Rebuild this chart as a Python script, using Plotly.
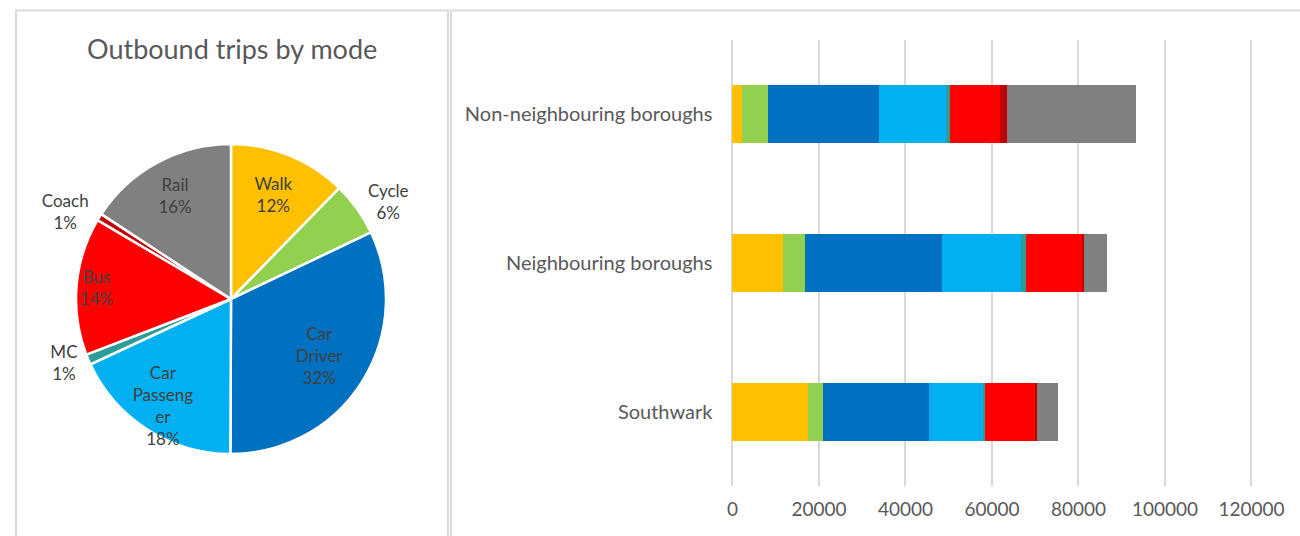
import plotly.graph_objects as go

# ---------------- data ----------------
categories = ["Southwark", "Neighbouring boroughs", "Non-neighbouring boroughs"]
modes = ["Walk", "Cycle", "Car Driver", "Car Passenger", "MC", "Bus", "Coach", "Rail"]
pie_labels = ["Walk", "Cycle", "Car<br>Driver", "Car<br>Passeng<br>er", "MC", "Bus", "Coach", "Rail"]

walk = [17570, 11650, 2200]
cycle = [3470, 5000, 5900]
car_driver = [24280, 31900, 25800]
car_passenger = [12490, 18100, 15400]
mc = [600, 1150, 1000]
bus = [11790, 13250, 11560]
coach = [100, 200, 1550]
rail = [5010, 5250, 30000]

series = [walk, cycle, car_driver, car_passenger, mc, bus, coach, rail]
colors = ["#FFC000", "#92D050", "#0070C0", "#00B0F0", "#2E9C98", "#FF0000", "#C00000", "#808080"]
x_ticks = [0, 20000, 40000, 60000, 80000, 100000, 120000]

pie_values = [sum(s) for s in series]

FONT = "Lato"
TXT = "#595959"
LBL = "#404040"

W, H = 1300, 536
cx, cy, r = 231, 299, 155

# label placement per slice: "outside", or the relative radius of the pie carrying its inside label
label_place = {"Walk": 1.0, "Cycle": "outside", "Car Driver": 1.25, "Car Passenger": 1.25,
               "MC": "outside", "Bus": 1.25, "Coach": "outside", "Rail": 1.12}


def pie_domain(rad):
    return dict(x=[(cx - rad) / W, (cx + rad) / W], y=[(H - cy - rad) / H, (H - cy + rad) / H])


def positions(scale):
    out = []
    for m in modes:
        p = label_place[m]
        if scale == 1.0 and p == "outside":
            out.append("outside")
        elif p == scale:
            out.append("inside")
        else:
            out.append("none")
    return out


fig = go.Figure()

# visible pie (with outside labels and the labels that sit at the default spot)
fig.add_trace(go.Pie(
    labels=modes, values=pie_values, text=pie_labels,
    texttemplate="%{text}<br>%{percent:.0%}",
    textposition=positions(1.0), insidetextorientation="horizontal",
    textfont=dict(family=FONT, size=17, color=LBL),
    marker=dict(colors=colors, line=dict(color="white", width=2.5)),
    sort=False, direction="clockwise", rotation=0,
    showlegend=False, hoverinfo="label+percent", automargin=False,
    domain=pie_domain(r),
))
# transparent companion pies carrying inside labels further from the centre
for sc in (1.12, 1.25):
    fig.add_trace(go.Pie(
        labels=modes, values=pie_values, text=pie_labels,
        texttemplate="%{text}<br>%{percent:.0%}",
        textposition=positions(sc), insidetextorientation="horizontal",
        textfont=dict(family=FONT, size=17, color=LBL),
        marker=dict(colors=["rgba(0,0,0,0)"] * len(modes), line=dict(width=0)),
        sort=False, direction="clockwise", rotation=0,
        showlegend=False, hoverinfo="skip", automargin=False,
        domain=pie_domain(r * sc),
    ))

for name, vals, col in zip(modes, series, colors):
    fig.add_trace(go.Bar(
        y=categories, x=vals, name=name, orientation="h",
        marker=dict(color=col, line=dict(width=0)),
        showlegend=False, xaxis="x", yaxis="y",
    ))

x_lo, x_hi = -250, 120250
px0, px120 = 732.5, 1251.5
ppu = (px120 - px0) / 120000
dom_x0 = px0 + x_lo * ppu
dom_x1 = px0 + x_hi * ppu
ytop, ybot = 40, 486

fig.update_layout(
    width=W, height=H, autosize=False,
    margin=dict(l=0, r=0, t=0, b=0, pad=0),
    paper_bgcolor="white", plot_bgcolor="white",
    barmode="stack", bargap=0.61,
    font=dict(family=FONT, color=TXT),
    xaxis=dict(domain=[dom_x0 / W, dom_x1 / W], range=[x_lo, x_hi], tickvals=x_ticks,
               tickformat="d", showgrid=True, gridcolor="#D9D9D9", gridwidth=2,
               zeroline=False, showline=False, ticks="", ticklabelstandoff=10,
               automargin=False,
               tickfont=dict(family=FONT, size=19, color=TXT), fixedrange=True),
    yaxis=dict(domain=[(H - ybot) / H, (H - ytop) / H], range=[-0.5, 2.5],
               showgrid=False, zeroline=False, showline=False, ticks="",
               ticklabelstandoff=18, automargin=False,
               tickfont=dict(family=FONT, size=20, color=TXT), fixedrange=True),
    annotations=[dict(text="Outbound trips by mode", x=232 / W, y=(H - 48) / H,
                      xref="paper", yref="paper", showarrow=False,
                      xanchor="center", yanchor="middle",
                      font=dict(family=FONT, size=27, color=TXT))],
    shapes=[
        dict(type="rect", xref="paper", yref="paper", x0=16 / W, x1=448 / W,
             y0=-0.05, y1=(H - 10.5) / H, line=dict(color="#D9D9D9", width=2)),
        dict(type="rect", xref="paper", yref="paper", x0=451 / W, x1=1.05,
             y0=-0.05, y1=(H - 10.5) / H, line=dict(color="#D9D9D9", width=2)),
    ],
)

fig.write_html(
    "out.html",
    config={"responsive": False, "displayModeBar": False},
    post_script="document.body.style.margin='0';document.body.style.overflow='hidden';",
)
